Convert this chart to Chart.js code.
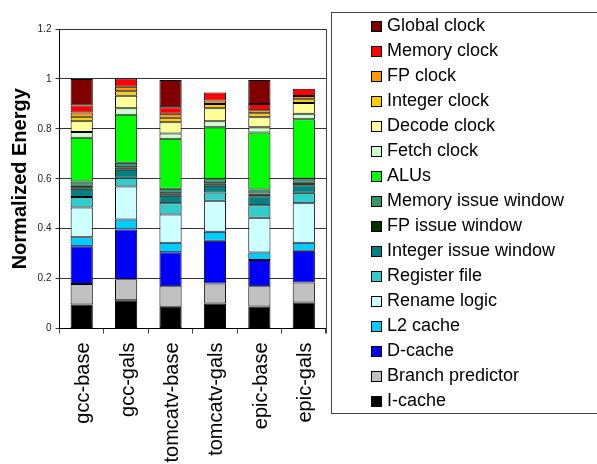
<!DOCTYPE html>
<html>
<head>
<meta charset="utf-8">
<script src="https://cdn.jsdelivr.net/npm/chart.js@4/dist/chart.umd.min.js"></script>
<style>
  html, body { margin: 0; padding: 0; background: #fff; }
  #wrap { width: 597px; height: 464px; position: relative; }
</style>
</head>
<body>
<div id="wrap"><canvas id="c"></canvas></div>
<script>
// ---- data ----
const categories = ['gcc-base', 'gcc-gals', 'tomcatv-base', 'tomcatv-gals', 'epic-base', 'epic-gals'];
const yTicks = [0, 0.2, 0.4, 0.6, 0.8, 1, 1.2];

const iCache        = [0.096, 0.113, 0.087, 0.100, 0.088, 0.104];
const branchPred    = [0.082, 0.084, 0.082, 0.080, 0.081, 0.080];
const dCache        = [0.152, 0.200, 0.137, 0.172, 0.105, 0.128];
const l2Cache       = [0.036, 0.040, 0.038, 0.036, 0.031, 0.032];
const renameLogic   = [0.119, 0.132, 0.113, 0.124, 0.139, 0.158];
const registerFile  = [0.042, 0.035, 0.045, 0.033, 0.050, 0.042];
const intIssueWin   = [0.033, 0.032, 0.030, 0.027, 0.036, 0.030];
const fpIssueWin    = [0.012, 0.010, 0.010, 0.010, 0.011, 0.010];
const memIssueWin   = [0.017, 0.018, 0.018, 0.016, 0.016, 0.017];
const alus          = [0.175, 0.192, 0.200, 0.208, 0.228, 0.237];
const fetchClock    = [0.023, 0.026, 0.021, 0.024, 0.021, 0.022];
const decodeClock   = [0.043, 0.051, 0.045, 0.052, 0.040, 0.044];
const intClock      = [0.018, 0.018, 0.018, 0.018, 0.016, 0.015];
const fpClock       = [0.017, 0.018, 0.016, 0.014, 0.012, 0.013];
const memClock      = [0.028, 0.033, 0.026, 0.032, 0.026, 0.029];
const globalClock   = [0.107, 0,     0.110, 0,     0.096, 0    ];

// series, bottom of the stack first
const seriesNames = ['I-cache', 'Branch predictor', 'D-cache', 'L2 cache', 'Rename logic',
  'Register file', 'Integer issue window', 'FP issue window', 'Memory issue window', 'ALUs',
  'Fetch clock', 'Decode clock', 'Integer clock', 'FP clock', 'Memory clock', 'Global clock'];
const seriesValues = [iCache, branchPred, dCache, l2Cache, renameLogic, registerFile,
  intIssueWin, fpIssueWin, memIssueWin, alus, fetchClock, decodeClock, intClock, fpClock,
  memClock, globalClock];

// ---- styles ----
const seriesColors = ['#000000', '#C0C0C0', '#0000FF', '#00CCFF', '#CCFFFF', '#33CCCC',
  '#008080', '#003300', '#339966', '#00FF00', '#CCFFCC', '#FFFF99', '#FFCC00', '#FF9900',
  '#FF0000', '#800000'];

const FONT = '"Liberation Sans", Arial, Helvetica, sans-serif';
Chart.defaults.font.family = FONT;
Chart.defaults.color = '#000';

const datasets = seriesNames.map((name, i) => ({
  label: name,
  data: seriesValues[i],
  backgroundColor: seriesColors[i],
  borderColor: '#000',
  borderWidth: 1,
  borderSkipped: false,
  inflateAmount: 0,
  barPercentage: 0.5,
  categoryPercentage: 1.0
}));

const boxLegend = {
  id: 'boxLegend',
  afterDraw(chart, args, o) {
    const ctx = chart.ctx;
    ctx.save();
    ctx.lineWidth = 1;
    ctx.strokeStyle = '#444';
    ctx.strokeRect(o.left, o.top, o.width, o.height);
    const ds = chart.data.datasets.slice().reverse();
    ctx.font = '18px ' + FONT;
    ctx.textBaseline = 'middle';
    ctx.textAlign = 'left';
    ds.forEach((d, i) => {
      const y = o.firstY + i * o.rowH;
      ctx.fillStyle = d.backgroundColor;
      ctx.fillRect(o.boxX, Math.round(y - 5.5), 11, 11);
      ctx.strokeStyle = '#000';
      ctx.strokeRect(o.boxX + 0.5, Math.round(y - 5.5) + 0.5, 10, 10);
      ctx.fillStyle = '#000';
      ctx.fillText(d.label, o.textX, y + 0.5);
    });
    ctx.restore();
  }
};

const plotFrame = {
  id: 'plotFrame',
  afterDraw(chart) {
    const a = chart.chartArea, ctx = chart.ctx;
    ctx.save();
    ctx.strokeStyle = '#444';
    ctx.lineWidth = 1;
    const x = Math.round(a.right) + 0.5;
    ctx.beginPath();
    ctx.moveTo(x, a.top);
    ctx.lineTo(x, a.bottom + 5);
    ctx.stroke();
    ctx.restore();
  }
};

new Chart(document.getElementById('c'), {
  type: 'bar',
  data: { labels: categories, datasets },
  plugins: [boxLegend, plotFrame],
  options: {
    responsive: true,
    maintainAspectRatio: false,
    animation: false,
    layout: { padding: { top: 29, right: 271, left: 0, bottom: 0 } },
    plugins: {
      legend: { display: false },
      tooltip: { enabled: false },
      boxLegend: { left: 331.5, top: 12.5, width: 320, height: 401, boxX: 371, textX: 387, firstY: 26, rowH: 25 }
    },
    scales: {
      x: {
        stacked: true,
        offset: true,
        grid: { display: true, drawOnChartArea: false, offset: true, tickLength: 5, color: '#444' },
        border: { display: true, color: '#000', width: 1 },
        ticks: {
          autoSkip: false, minRotation: 90, maxRotation: 90, padding: 9, labelOffset: 2,
          font: { size: 20 }, color: '#000'
        },
        afterFit(scale) { scale.height = 135.5; }
      },
      y: {
        stacked: true,
        min: 0, max: 1.2,
        afterBuildTicks(scale) { scale.ticks = yTicks.map(v => ({ value: v })); },
        grid: { color: '#333', tickLength: 4 },
        border: { display: true, color: '#000', width: 1 },
        ticks: {
          padding: 4, font: { size: 10 }, color: '#222',
          callback: (v) => String(Math.round(v * 10) / 10)
        },
        title: {
          display: true, text: 'Normalized Energy',
          font: { size: 20, weight: 'bold' }, color: '#000',
          padding: { top: 8, bottom: 0 }
        },
        afterFit(scale) { scale.width = 59.5; }
      }
    }
  }
});
</script>
</body>
</html>
